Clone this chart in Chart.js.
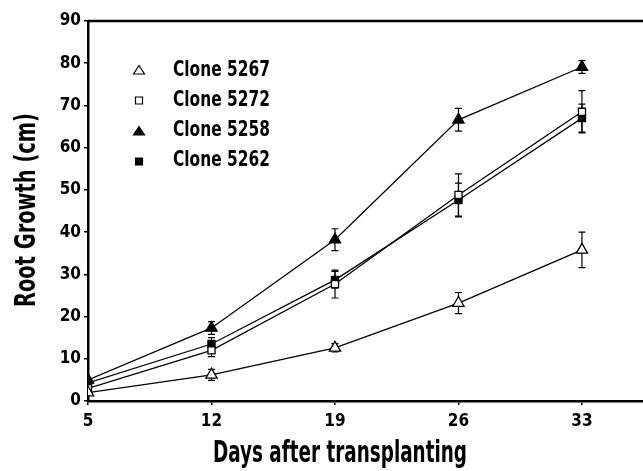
<!DOCTYPE html>
<html lang="en">
<head>
<meta charset="UTF-8">
<title>Root Growth</title>
<script src="https://cdn.jsdelivr.net/npm/chart.js"></script>
<style>
  html, body { margin: 0; padding: 0; background: #fff; }
  #wrap { width: 643px; height: 471px; }
</style>
</head>
<body>
<div id="wrap"><canvas id="myChart" width="643" height="471"></canvas></div>
<script>
// data
const days = [5, 12, 19, 26, 33];
const xTicks = [5, 12, 19, 26, 33];
const yTicks = [0, 10, 20, 30, 40, 50, 60, 70, 80, 90];

const labels = ['Clone 5267', 'Clone 5272', 'Clone 5258', 'Clone 5262'];
const clone5267 = [2, 6.2, 12.6, 23.2, 35.8];
const clone5272 = [3, 12, 27.7, 48.8, 68.5];
const clone5258 = [5, 17.3, 38.2, 66.6, 79.1];
const clone5262 = [4.3, 13.5, 28.7, 47.6, 67];
// error bar half widths
const err5267 = [0, 1.3, 1, 2.5, 4.2];
const err5272 = [0, 1.5, 3.3, 5, 5];
const err5258 = [0, 1.5, 2.6, 2.7, 1.5];
const err5262 = [0, 1.5, 2, 4, 3.3];

const xTitle = 'Days after transplanting';
const yTitle = 'Root Growth (cm)';

const FONT = '"Liberation Sans Narrow", "DejaVu Sans Condensed", "Roboto Condensed", sans-serif';

function pts(vals) {
    return vals.map((v, i) => ({ x: days[i], y: v }));
}

function makeSet(label, vals, errs, style, filled, radius) {
    return {
        label: label,
        data: pts(vals),
        errors: errs,
        borderColor: '#000',
        backgroundColor: filled ? '#000' : '#fff',
        pointBackgroundColor: filled ? '#000' : '#fff',
        pointBorderColor: '#000',
        pointBorderWidth: 1.3,
        pointStyle: style,
        pointRadius: radius,
        borderWidth: 1.3,
        tension: 0
    };
}

// text squeezed sideways to look like the condensed face of the original
function squeezed(ctx, text, x, y, targetW, size, align) {
    ctx.font = 'bold ' + size + 'px ' + FONT;
    const w = ctx.measureText(text).width;
    const k = targetW / w;
    ctx.save();
    ctx.translate(x, y);
    ctx.scale(k, 1);
    ctx.textAlign = align || 'left';
    ctx.textBaseline = 'alphabetic';
    ctx.fillText(text, 0, 0);
    ctx.restore();
}

// let the plot run to the right edge of the canvas, like the original
const stretchRight = {
    id: 'stretchRight',
    afterLayout(chart) {
        const xs = chart.scales.x;
        const w = chart.width;
        chart.chartArea.right = w;
        chart.chartArea.width = w - chart.chartArea.left;
        xs.right = w;
        xs.width = w - xs.left;
        xs.configure();
    }
};

// error bars, drawn through the scales
const errorBars = {
    id: 'errorBars',
    beforeDatasetsDraw(chart) {
        const ctx = chart.ctx;
        const xs = chart.scales.x, ys = chart.scales.y;
        ctx.save();
        ctx.strokeStyle = '#000';
        ctx.lineWidth = 1.2;
        chart.data.datasets.forEach(ds => {
            ds.data.forEach((p, i) => {
                const e = ds.errors[i];
                if (!e) return;
                const x = xs.getPixelForValue(p.x);
                const top = ys.getPixelForValue(p.y + e);
                const bot = ys.getPixelForValue(p.y - e);
                ctx.beginPath();
                ctx.moveTo(x, top); ctx.lineTo(x, bot);
                ctx.moveTo(x - 3.5, top); ctx.lineTo(x + 3.5, top);
                ctx.moveTo(x - 3.5, bot); ctx.lineTo(x + 3.5, bot);
                ctx.stroke();
            });
        });
        ctx.restore();
    }
};

// top frame line, axis titles and the legend inside the plot
const frameAndLegend = {
    id: 'frameAndLegend',
    afterDraw(chart) {
        const ctx = chart.ctx;
        const a = chart.chartArea;
        ctx.save();
        ctx.strokeStyle = '#000';
        ctx.lineWidth = 2.5;
        ctx.beginPath();
        ctx.moveTo(a.left, a.top);
        ctx.lineTo(a.right, a.top);
        ctx.stroke();

        ctx.fillStyle = '#000';
        // axis titles
        squeezed(ctx, xTitle, 340, 462, 254, 30, 'center');
        ctx.save();
        ctx.translate(35, 210);
        ctx.rotate(-Math.PI / 2);
        squeezed(ctx, yTitle, 0, 0, 194, 29, 'center');
        ctx.restore();

        // legend
        chart.data.datasets.forEach((ds, i) => {
            const y = 70 + i * 30.5;
            ctx.fillStyle = ds.pointBackgroundColor;
            ctx.strokeStyle = '#000';
            ctx.lineWidth = 1.2;
            ctx.beginPath();
            if (ds.pointStyle === 'triangle') {
                ctx.moveTo(139, y - 4.5);
                ctx.lineTo(144.5, y + 4);
                ctx.lineTo(133.5, y + 4);
                ctx.closePath();
            } else {
                ctx.rect(135.5, y - 3.5, 7, 7);
            }
            ctx.fill();
            ctx.stroke();
            ctx.fillStyle = '#000';
            squeezed(ctx, ds.label, 173, 76 + i * 30, 97, 22, 'left');
        });
        ctx.restore();
    }
};

const ctx = document.getElementById('myChart').getContext('2d');
const myChart = new Chart(ctx, {
    type: 'line',
    data: {
        datasets: [
            makeSet(labels[0], clone5267, err5267, 'triangle', false, 6.5),
            makeSet(labels[1], clone5272, err5272, 'rect', false, 5),
            makeSet(labels[2], clone5258, err5258, 'triangle', true, 6.5),
            makeSet(labels[3], clone5262, err5262, 'rect', true, 5)
        ]
    },
    options: {
        responsive: false,
        animation: false,
        layout: { padding: { top: 21, right: 0, left: 0, bottom: 0 } },
        plugins: {
            legend: { display: false },
            tooltip: { enabled: false }
        },
        scales: {
            x: {
                type: 'linear',
                min: 5,
                max: 36.46,
                afterBuildTicks: s => { s.ticks = xTicks.map(v => ({ value: v })); },
                afterFit: s => { s.height = 70; },
                border: { display: true, color: '#000', width: 2.5 },
                grid: { drawOnChartArea: false, drawTicks: true, tickLength: 4, color: '#000', lineWidth: 1.5 },
                ticks: {
                    color: '#000',
                    padding: 6,
                    maxRotation: 0,
                    font: { family: FONT, size: 17, weight: 'bold' }
                }
            },
            y: {
                type: 'linear',
                min: 0,
                max: 90,
                afterBuildTicks: s => { s.ticks = yTicks.map(v => ({ value: v })); },
                afterFit: s => { s.width = 88; },
                border: { display: true, color: '#000', width: 2.5 },
                grid: { drawOnChartArea: false, drawTicks: true, tickLength: 4, color: '#000', lineWidth: 1.5 },
                ticks: {
                    color: '#000',
                    padding: 3,
                    font: { family: FONT, size: 17, weight: 'bold' }
                }
            }
        }
    },
    plugins: [stretchRight, errorBars, frameAndLegend]
});
</script>
</body>
</html>
